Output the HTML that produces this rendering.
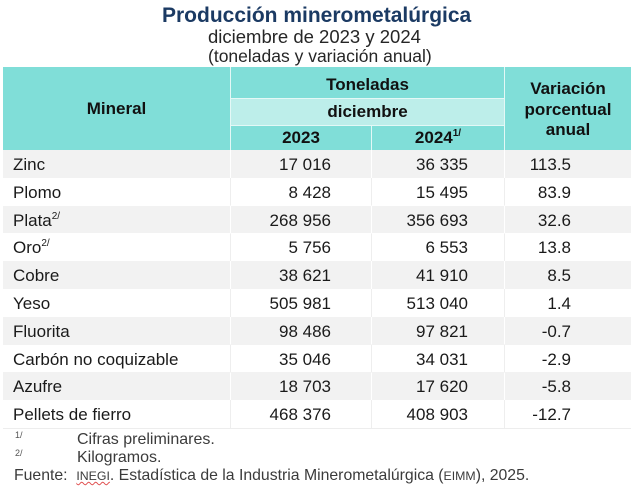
<!DOCTYPE html>
<html><head><meta charset="utf-8">
<style>
*{margin:0;padding:0;box-sizing:border-box}
html,body{width:633px;height:486px;overflow:hidden;background:#fff}
body{position:relative;font-family:"Liberation Sans",Arial,sans-serif;color:#1a1a1a}
.a{position:absolute;white-space:nowrap}
.row{position:absolute;left:3px;width:628px;height:27.8px}
.g{background:#f2f2f2}
.t{position:absolute;top:1px;line-height:27.8px;font-size:17px;white-space:nowrap}
.n{left:10px}
.c1{right:300px}
.c2{right:163px}
.c3{right:60px}
sup.s{font-size:10px;vertical-align:0;position:relative;top:-7px}
.h{font-weight:bold;font-size:17px;color:#111;text-align:center;position:absolute}
.sc{font-size:0.78em}
</style></head><body>

<div class="a" style="left:162px;top:4.5px;font-size:21px;line-height:21px;font-weight:bold;color:#1b3a63">Producción minerometalúrgica</div>
<div class="a" style="left:208px;top:27.5px;font-size:18.5px;line-height:18.5px;color:#262626">diciembre de 2023 y 2024</div>
<div class="a" style="left:208px;top:48px;font-size:17.5px;line-height:17.5px;color:#262626">(toneladas y variación anual)</div>

<!-- header -->
<div class="a" style="left:3px;top:67px;width:628px;height:83px;background:#80ded8"></div>
<div class="a" style="left:231px;top:99px;width:273px;height:26px;background:#bdeeea"></div>
<div class="a" style="left:229.5px;top:67px;width:1.5px;height:83px;background:#e4f8f6"></div>
<div class="a" style="left:503.5px;top:67px;width:1.5px;height:83px;background:#e4f8f6"></div>
<div class="a" style="left:370.5px;top:125px;width:1.5px;height:25px;background:#e4f8f6"></div>
<div class="a" style="left:231px;top:97.5px;width:273px;height:1.5px;background:#e4f8f6"></div>
<div class="a" style="left:231px;top:124.5px;width:273px;height:1.5px;background:#e4f8f6"></div>

<div class="h" style="left:3px;width:227px;top:98.5px;line-height:20px">Mineral</div>
<div class="h" style="left:231px;width:273px;top:74.5px;line-height:20px">Toneladas</div>
<div class="h" style="left:231px;width:273px;top:102px;line-height:20px">diciembre</div>
<div class="h" style="left:231px;width:140px;top:128px;line-height:20px">2023</div>
<div class="h" style="left:372px;width:132px;top:128px;line-height:20px">2024<sup class="s" style="font-size:10px">1/</sup></div>
<div class="h" style="left:505px;width:126px;top:79px;line-height:20.5px">Variación<br>porcentual<br>anual</div>

<!-- rows -->
<div class="row g" style="top:150px"><span class="t n">Zinc</span><span class="t c1">17 016</span><span class="t c2">36 335</span><span class="t c3">113.5</span></div>
<div class="row" style="top:177.8px"><span class="t n">Plomo</span><span class="t c1">8 428</span><span class="t c2">15 495</span><span class="t c3">83.9</span></div>
<div class="row g" style="top:205.6px"><span class="t n">Plata<sup class="s">2/</sup></span><span class="t c1">268 956</span><span class="t c2">356 693</span><span class="t c3">32.6</span></div>
<div class="row" style="top:233.4px"><span class="t n">Oro<sup class="s">2/</sup></span><span class="t c1">5 756</span><span class="t c2">6 553</span><span class="t c3">13.8</span></div>
<div class="row g" style="top:261.2px"><span class="t n">Cobre</span><span class="t c1">38 621</span><span class="t c2">41 910</span><span class="t c3">8.5</span></div>
<div class="row" style="top:289px"><span class="t n">Yeso</span><span class="t c1">505 981</span><span class="t c2">513 040</span><span class="t c3">1.4</span></div>
<div class="row g" style="top:316.8px"><span class="t n">Fluorita</span><span class="t c1">98 486</span><span class="t c2">97 821</span><span class="t c3">-0.7</span></div>
<div class="row" style="top:344.6px"><span class="t n">Carbón no coquizable</span><span class="t c1">35 046</span><span class="t c2">34 031</span><span class="t c3">-2.9</span></div>
<div class="row g" style="top:372.4px"><span class="t n">Azufre</span><span class="t c1">18 703</span><span class="t c2">17 620</span><span class="t c3">-5.8</span></div>
<div class="row" style="top:400.2px"><span class="t n">Pellets de fierro</span><span class="t c1">468 376</span><span class="t c2">408 903</span><span class="t c3">-12.7</span></div>

<!-- data dividers -->
<div class="a" style="left:230px;top:150px;width:1px;height:278px;background:repeating-linear-gradient(#fff 0 27.8px,#eeeeee 27.8px 55.6px)"></div>
<div class="a" style="left:371px;top:150px;width:1px;height:278px;background:repeating-linear-gradient(#fff 0 27.8px,#eeeeee 27.8px 55.6px)"></div>
<div class="a" style="left:504px;top:150px;width:1px;height:278px;background:repeating-linear-gradient(#fff 0 27.8px,#eeeeee 27.8px 55.6px)"></div>
<div class="a" style="left:3px;top:428px;width:628px;height:1px;background:#ededed"></div>

<!-- footnotes -->
<div class="a" style="left:15px;top:430px;font-size:9px;line-height:10px;color:#555">1/</div>
<div class="a" style="left:77px;top:432px;font-size:16px;line-height:16px;color:#3b3b3b">Cifras preliminares.</div>
<div class="a" style="left:15px;top:448px;font-size:9px;line-height:10px;color:#555">2/</div>
<div class="a" style="left:77px;top:450px;font-size:16px;line-height:16px;color:#3b3b3b">Kilogramos.</div>
<div class="a" style="left:14px;top:468px;font-size:15.8px;line-height:16px;color:#3b3b3b">Fuente:&nbsp; <span class="sc" style="text-decoration:underline wavy #e05050;text-decoration-thickness:1px">INEGI</span>. Estadística de la Industria Minerometalúrgica (<span class="sc">EIMM</span>), 2025.</div>

</body></html>
